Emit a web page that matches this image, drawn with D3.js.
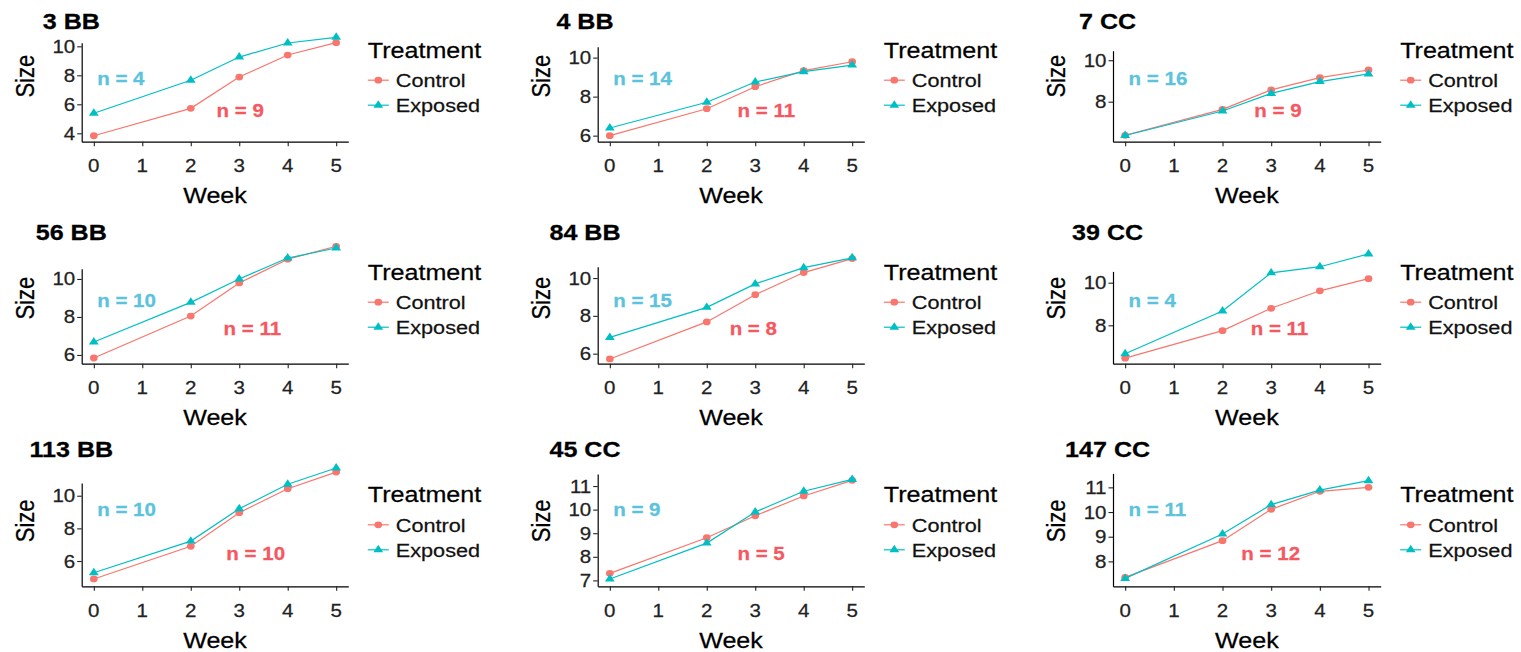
<!DOCTYPE html>
<html>
<head>
<meta charset="utf-8">
<script src="https://cdn.jsdelivr.net/npm/d3@7"></script>
<style>
  body { margin: 0; background: #fff; }
  svg { display: block; font-family: "Liberation Sans", Arial, sans-serif; }
</style>
</head>
<body>
<svg id="chart"></svg>
<script>
const weeks = [0, 2, 3, 4, 5];
const xTicks = [0, 1, 2, 3, 4, 5];
const treatments = ["Control", "Exposed"];
const panelTitles = ["3 BB", "4 BB", "7 CC", "56 BB", "84 BB", "39 CC", "113 BB", "45 CC", "147 CC"];

const controlSize = [
  [3.83, 5.72, 7.88, 9.40, 10.25],
  [6.00, 7.38, 8.51, 9.33, 9.79],
  [6.38, 7.63, 8.57, 9.16, 9.53],
  [5.84, 8.05, 9.79, 11.04, 11.72],
  [5.72, 7.68, 9.12, 10.29, 11.03],
  [6.46, 7.75, 8.80, 9.62, 10.19],
  [4.90, 6.90, 8.96, 10.43, 11.45],
  [7.30, 8.81, 9.74, 10.58, 11.24],
  [7.35, 8.84, 10.11, 10.84, 11.00]
];
const exposedSize = [
  [5.38, 7.66, 9.26, 10.23, 10.62],
  [6.39, 7.71, 8.75, 9.28, 9.62],
  [6.37, 7.55, 8.40, 8.97, 9.34],
  [6.68, 8.77, 10.00, 11.10, 11.63],
  [6.86, 8.45, 9.69, 10.55, 11.07],
  [6.67, 8.67, 10.46, 10.75, 11.35],
  [5.28, 7.22, 9.20, 10.70, 11.70],
  [7.06, 8.58, 9.90, 10.78, 11.28],
  [7.31, 9.11, 10.30, 10.89, 11.27]
];
const controlN = [9, 11, 9, 11, 8, 11, 10, 5, 12];
const exposedN = [4, 14, 16, 10, 15, 4, 10, 9, 11];

const yTicks = [
  [4, 6, 8, 10], [6, 8, 10], [8, 10],
  [6, 8, 10], [6, 8, 10], [8, 10],
  [6, 8, 10], [7, 8, 9, 10, 11], [8, 9, 10, 11]
];
// axis extent of each panel (y units)
const yLims = [
  [3.42, 10.25], [5.69, 10.56], [6.07, 10.46],
  [5.54, 10.54], [5.47, 10.60], [6.20, 10.53],
  [4.45, 10.78], [6.75, 11.51], [6.99, 11.57]
];
// where the red "n =" label sits along the week axis
const controlLabelWeek = [3.02, 3.23, 3.14, 3.27, 2.96, 3.17, 3.34, 3.12, 2.99];

// layout
const width = 1521, height = 652;
const SX = 1.14; // the picture is a bit wider than tall
const colLeft = [81.7, 597.7, 1113];
const colRight = [348.3, 864.3, 1380.7];
const rowBottom = [141.7, 363.7, 586.3];
const plotH = [99, 95, 91, 95, 97, 92.3, 103.3, 112.3, 113];
const titleX = [71.3, 585, 1107.6];
const titleY = [28.5, 239.5, 457];
const expLabelDy = [-63, -63.5, -77];
const ctlLabelDy = [-31.5, -35, -33];

const colors = { Control: "#F8766D", Exposed: "#00BFC4" };
const labelColors = { Control: "#F5585F", Exposed: "#5BC3DD" };

const svg = d3.select("#chart").attr("width", width).attr("height", height);

function txt(g, x, y, s, size, opts = {}) {
  const fill = opts.fill || "#000";
  return g.append("text")
    .attr("transform", `translate(${x},${y}) scale(${SX},1)` + (opts.rotate ? ` rotate(${opts.rotate})` : ""))
    .attr("text-anchor", opts.anchor || "start")
    .attr("font-size", size)
    .attr("font-weight", opts.bold ? "bold" : null)
    .attr("fill", fill)
    .attr("stroke", fill)
    .attr("stroke-width", 0.25)
    .text(s);
}

const shape = {
  Control: d3.symbol().type(d3.symbolCircle).size(36)(),
  Exposed: d3.symbol().type(d3.symbolTriangle).size(32)()
};

panelTitles.forEach((title, i) => {
  const r = Math.floor(i / 3), c = i % 3;
  const g = svg.append("g");
  const bottom = rowBottom[r];
  const top = bottom - plotH[i];

  const x = d3.scaleLinear().domain([-0.25, 5.25]).range([colLeft[c], colRight[c]]);
  const y = d3.scaleLinear().domain(yLims[i]).range([bottom, top]);

  // axes
  const xAxis = g.append("g").attr("transform", `translate(0,${bottom})`)
    .call(d3.axisBottom(x).tickValues(xTicks).tickSize(4.5).tickSizeOuter(0).tickFormat(""));
  const yAxis = g.append("g").attr("transform", `translate(${colLeft[c]},0)`)
    .call(d3.axisLeft(y).tickValues(yTicks[i]).tickSize(4.5).tickSizeOuter(0).tickFormat(""));
  [xAxis, yAxis].forEach(a => {
    a.select(".domain").attr("stroke", "#000").attr("stroke-width", 1.2);
    a.selectAll(".tick line").attr("stroke", "#222").attr("stroke-width", 1.1);
  });

  xTicks.forEach(t => txt(g, x(t), bottom + 30.6, t, 18, { anchor: "middle", fill: "#222" }));
  yTicks[i].forEach(t => txt(g, colLeft[c] - 6.5, y(t) + 6.5, t, 18, { anchor: "end", fill: "#222" }));

  txt(g, (colLeft[c] + colRight[c]) / 2, bottom + 61.6, "Week", 22, { anchor: "middle" });
  txt(g, colLeft[c] - 48, bottom - 65.5, "Size", 22, { anchor: "middle", rotate: -90 });
  txt(g, titleX[c], titleY[r], title, 22, { anchor: "middle", bold: true });

  // lines + points
  const series = [
    { key: "Control", values: controlSize[i] },
    { key: "Exposed", values: exposedSize[i] }
  ];
  const line = d3.line().x((d, j) => x(weeks[j])).y(d => y(d));
  series.forEach(s => {
    g.append("path").attr("d", line(s.values))
      .attr("fill", "none").attr("stroke", colors[s.key]).attr("stroke-width", 1.2);
    g.selectAll(null).data(s.values).enter().append("path")
      .attr("d", shape[s.key])
      .attr("transform", (d, j) => `translate(${x(weeks[j])},${y(d)}) scale(${SX},1)`)
      .attr("fill", colors[s.key]);
  });

  // n labels
  txt(g, x(0.07), bottom + expLabelDy[r] + 6.5, `n = ${exposedN[i]}`, 18, { bold: true, fill: labelColors.Exposed });
  txt(g, x(controlLabelWeek[i]), bottom + ctlLabelDy[r] + 6.5, `n = ${controlN[i]}`, 18,
    { bold: true, anchor: "middle", fill: labelColors.Control });

  // legend
  const lx = colRight[c] + 19.5;
  txt(g, lx, bottom - 84, "Treatment", 22);
  treatments.forEach((t, k) => {
    const ky = bottom - 61.5 + k * 25;
    g.append("line").attr("x1", lx).attr("x2", lx + 21).attr("y1", ky).attr("y2", ky)
      .attr("stroke", colors[t]).attr("stroke-width", 1.2);
    g.append("path").attr("d", shape[t])
      .attr("transform", `translate(${lx + 10.5},${ky}) scale(${SX},1)`)
      .attr("fill", colors[t]);
    txt(g, lx + 28, ky + 7, t, 19, { fill: "#111" });
  });
});
</script>
</body>
</html>
